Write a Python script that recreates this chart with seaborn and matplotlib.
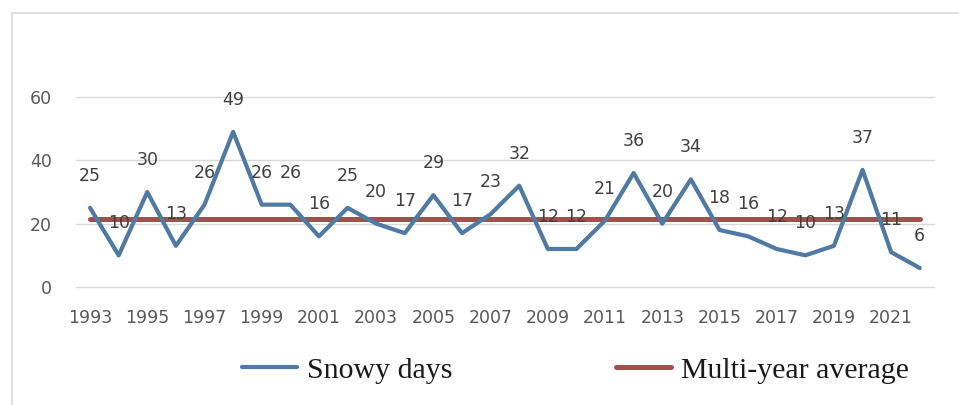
import matplotlib
matplotlib.use("Agg")
import matplotlib.pyplot as plt
import seaborn as sns
import pandas as pd
import numpy as np
from matplotlib.patches import Rectangle
from matplotlib.lines import Line2D

years = list(range(1993, 2023))
snowy_days = [25, 10, 30, 13, 26, 49, 26, 26, 16, 25, 20, 17, 29, 17, 23,
              32, 12, 12, 21, 36, 20, 34, 18, 16, 12, 10, 13, 37, 11, 6]
average_value = 21.4
tick_years = list(range(1993, 2022, 2))
y_ticks = [0, 20, 40, 60]

blue = "#4F7AA5"
red = "#A54F4A"

sns.set_theme(style="white")
plt.rcParams['font.family'] = ['DejaVu Sans']

df = pd.DataFrame({"year": years, "snowy": snowy_days,
                   "avg": [average_value] * len(years)})

fig = plt.figure(figsize=(9.59, 4.05), dpi=100)
ax = fig.add_axes([0.079, 0.2914, 0.895, 0.4691])

# outer chart frame
fig.patches.append(Rectangle((12 / 959, -0.1), 1.2, 1 - 13 / 405 + 0.1,
                             transform=fig.transFigure, fill=False,
                             edgecolor="#d9d9d9", linewidth=1.2))

sns.lineplot(data=df, x="year", y="avg", ax=ax, color=red, linewidth=3.6,
             zorder=3)
sns.lineplot(data=df, x="year", y="snowy", ax=ax, color=blue, linewidth=3.0,
             zorder=4)

for x, v in zip(years, snowy_days):
    ax.annotate(str(v), (x, v), xytext=(0, 23), textcoords="offset points",
                ha="center", va="center", fontsize=12.5, color="#404040",
                zorder=5)

ax.set_xlim(1992.5, 2022.5)
ax.set_ylim(0, 60)
ax.set_yticks(y_ticks)
ax.set_xticks(tick_years)
ax.set_xticklabels([str(t) for t in tick_years])
ax.grid(axis="y", color="#d9d9d9", linewidth=1.0)
ax.grid(axis="x", visible=False)
for gl in ax.get_ygridlines():
    gl.set_clip_on(False)
for s in ax.spines.values():
    s.set_visible(False)
ax.tick_params(axis="both", length=0, labelsize=12.5, labelcolor="#595959")
ax.tick_params(axis="y", pad=17)
ax.tick_params(axis="x", pad=16)
ax.set_xlabel("")
ax.set_ylabel("")

handles = [Line2D([], [], color=blue, linewidth=3.0),
           Line2D([], [], color=red, linewidth=3.6)]
fig.legend(handles, ["Snowy days", "Multi-year average"],
           loc="center", bbox_to_anchor=(0.6, 0.086), ncol=2, frameon=False,
           prop={"family": "Liberation Serif", "size": 21.5},
           labelcolor="#1a1a1a",
           handlelength=1.85, handletextpad=0.33, columnspacing=5.45)

fig.savefig("out.png", dpi=100)
